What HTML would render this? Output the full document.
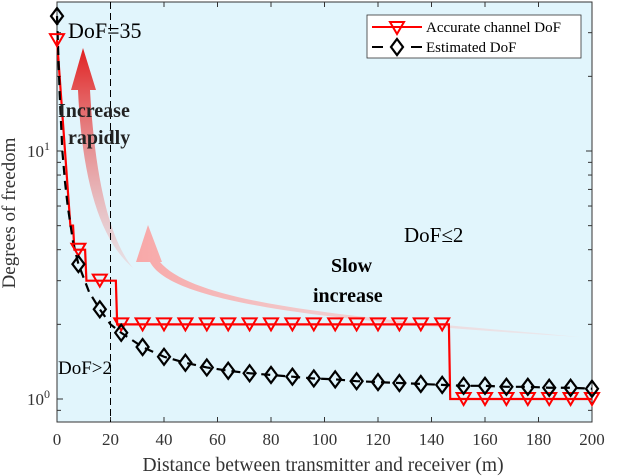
<!DOCTYPE html>
<html><head><meta charset="utf-8"><style>
body{margin:0;background:#fff;}
svg{display:block;font-family:"Liberation Serif",serif;}
</style></head><body>
<svg id="chart" width="620" height="476" viewBox="0 0 620 476">
<defs>
<linearGradient id="gRed" x1="0" y1="1" x2="0" y2="0"><stop offset="0" stop-color="#f3b0b0" stop-opacity="0.3"/><stop offset="1" stop-color="#e02020"/></linearGradient>
<linearGradient id="gPink" x1="1" y1="0" x2="0" y2="0"><stop offset="0" stop-color="#f8d0d0" stop-opacity="0.3"/><stop offset="1" stop-color="#f8a8a8"/></linearGradient>
</defs>
<rect x="57" y="2" width="535" height="420" fill="#e1f5fc"/>
<g id="annot">
<path d="M133,268 C110,240 95,180 90,90 L96,90 L83,48 L71,90 L78,90 C82,180 100,240 133,268 Z" fill="url(#gRed)"/>
<path d="M580,337 C400,320 200,310 160,262 L162,262 L148,225 L136,262 L150,262 C170,300 300,320 580,337 Z" fill="url(#gPink)"/>
</g>
<g id="axes"></g>
<g id="series"></g>
<text x="68" y="38" font-size="22">DoF=35</text>
<text x="58" y="117" font-size="20" font-weight="bold" fill="#222">Increase</text>
<text x="68" y="144" font-size="20" font-weight="bold" fill="#222">rapidly</text>
<text x="404" y="242" font-size="21">DoF≤2</text>
<text x="331" y="272" font-size="20" font-weight="bold">Slow</text>
<text x="313" y="302" font-size="20" font-weight="bold">increase</text>
<text x="58" y="374" font-size="19">DoF&gt;2</text>
<g>
<rect x="367" y="15" width="214" height="43" fill="#fff" stroke="#333" stroke-width="0.8"/>
<line x1="372" y1="27" x2="422" y2="27" stroke="#f00" stroke-width="2"/>
<path d="M390,22 L404,22 L397,34 Z" fill="none" stroke="#f00" stroke-width="2"/>
<text x="426" y="32" font-size="15">Accurate channel DoF</text>
<line x1="372" y1="47" x2="383" y2="47" stroke="#000" stroke-width="2"/>
<line x1="411" y1="47" x2="422" y2="47" stroke="#000" stroke-width="2"/>
<path d="M397,39 L403,47 L397,55 L391,47 Z" fill="none" stroke="#000" stroke-width="2.2"/>
<text x="426" y="52" font-size="15">Estimated DoF</text>
</g>
<text x="323" y="471" font-size="19.5" text-anchor="middle" fill="#333">Distance between transmitter and receiver (m)</text>
<text transform="translate(15,213) rotate(-90)" font-size="19" text-anchor="middle" fill="#333">Degrees of freedom</text>
</svg>
<script>
const xTicks=[0,20,40,60,80,100,120,140,160,180,200];
const accX=[0,5,6,6.5,10.5,11,22,22.5,146.5,147,200];
const accY=[28,5,5,4,4,3,3,2,2,1,1];
const estX=[0,1,2,3,4,6,8,12,16,20,24,32,40,48,56,64,72,80,88,96,104,112,120,128,136,144,152,160,168,176,184,192,200];
const estY=[35,17,10,7.5,6,4.3,3.5,2.7,2.3,2.0,1.85,1.62,1.48,1.4,1.34,1.3,1.27,1.25,1.23,1.21,1.2,1.18,1.17,1.16,1.15,1.14,1.13,1.13,1.12,1.12,1.11,1.11,1.1];
const NS="http://www.w3.org/2000/svg";
const X0=57,X1=592,Y10=399,DEC=248,YT=2,YB=422;
function sx(v){return X0+(v/200)*(X1-X0);}
function sy(v){return Y10-Math.log10(v)*DEC;}
function mk(t,a,p){const e=document.createElementNS(NS,t);for(const k in a)e.setAttribute(k,a[k]);p.appendChild(e);return e;}
const ax=document.getElementById('axes'),se=document.getElementById('series');
xTicks.forEach(v=>{
 const x=sx(v);
 const t=mk('line',{x1:x,y1:YB,x2:x,y2:YB-5,stroke:'#333'},ax);
 
 
 const t2=mk('line',{x1:x,y1:YT,x2:x,y2:YT+5,stroke:'#333'},ax);
 
 
 const l=mk('text',{x:x,y:YB+23,'font-size':17,'text-anchor':'middle',fill:'#333'},ax);
 l.textContent=v;
 
 
});
[0.9,1,2,3,4,5,6,7,8,9,10,20,30].forEach(v=>{
 const y=sy(v);const major=(v===1||v===10);const len=major?6:4;
 const t=mk('line',{x1:X0,y1:y,x2:X0+len,y2:y,stroke:'#333'},ax);
 
 
 const t2=mk('line',{x1:X1,y1:y,x2:X1-len,y2:y,stroke:'#333'},ax);
 
 
});
[[1,'0'],[10,'1']].forEach(([v,e])=>{
 const l=mk('text',{x:50,y:sy(v)+6,'font-size':17,'text-anchor':'end',fill:'#333'},ax);
 l.innerHTML='10<tspan dy="-7" font-size="12">'+e+'</tspan>';
 
 
});
const fr=mk('rect',{x:X0,y:YT,width:X1-X0,height:YB-YT,fill:'none',stroke:'#333','stroke-width':1},ax);


const vl=mk('line',{x1:sx(20),y1:YT,x2:sx(20),y2:YB,stroke:'#000','stroke-dasharray':'7,4','stroke-width':1},ax);


const ap=mk('polyline',{points:accX.map((x,i)=>sx(x)+','+sy(accY[i])).join(' '),fill:'none',stroke:'#f00','stroke-width':2.2},se);


const ep=mk('polyline',{points:estX.map((x,i)=>sx(x)+','+sy(estY[i])).join(' '),fill:'none',stroke:'#000','stroke-width':2.2,'stroke-dasharray':'9,6'},se);


function accAt(d){let v=accY[0];for(let i=0;i<accX.length;i++){if(accX[i]<=d)v=accY[i];}return v;}
for(let d=0;d<=200;d+=8){
 const x=sx(d),y=sy(accAt(d));
 const m=mk('path',{d:`M${x-7},${y-6} L${x+7},${y-6} L${x},${y+6} Z`,fill:'none',stroke:'#f00','stroke-width':2},se);
 
 
}
estX.forEach((d,i)=>{
 if(d%8!==0)return;
 const x=sx(d),y=sy(estY[i]);
 const m=mk('path',{d:`M${x},${y-8} L${x+6},${y} L${x},${y+8} L${x-6},${y} Z`,fill:'none',stroke:'#000','stroke-width':2.2},se);
 
 
});
</script>
</body></html>
